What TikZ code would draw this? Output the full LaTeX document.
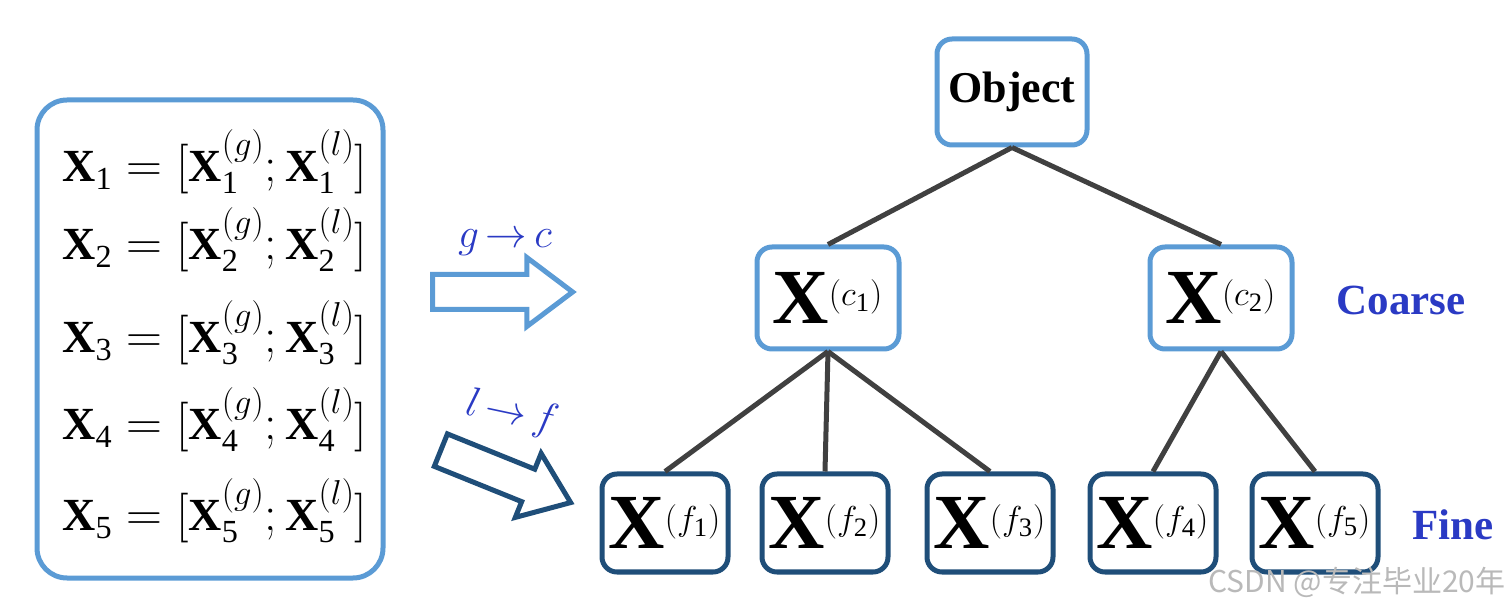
\documentclass[tikz,border=0pt]{standalone}
\usepackage{amsmath}
\usepackage{fontspec}
\setmainfont{Liberation Serif}
\newfontfamily\cjkfont{Noto Sans CJK SC}
\usepackage{tikz}
\usetikzlibrary{shapes.arrows,positioning}
\usepackage{xcolor}
\definecolor{lightblue}{RGB}{91,155,213}
\definecolor{darkblue}{RGB}{31,78,121}
\definecolor{labelblue}{RGB}{42,58,196}
\definecolor{linegray}{RGB}{64,64,64}
\newcommand{\supsmall}[1]{\text{\fontsize{19}{22}\selectfont$#1$}}

\begin{document}
\begin{tikzpicture}[x=0.5pt,y=-0.5pt,
		coarsebox/.style={draw=lightblue, line width=2.5pt, rounded corners=7.5pt, fill=white, inner sep=0pt},
		finebox/.style={draw=darkblue, line width=2.5pt, rounded corners=7.5pt, fill=white, inner sep=0pt, minimum width=63pt, minimum height=49pt},
		treeline/.style={draw=linegray, line width=2.5pt},
		eqn/.style={anchor=west, inner sep=0pt, font=\fontsize{23}{26}\selectfont},
		bigx/.style={font=\fontsize{39}{42}\selectfont},
		levelname/.style={text=labelblue, font=\fontsize{21.5}{24}\selectfont\bfseries},
		blockarrow/.style={single arrow, line width=2.5pt, fill=white, minimum height=70pt, inner xsep=0pt, inner ysep=7.5pt, single arrow head extend=8.5pt, single arrow tip angle=74},
		maplabel/.style={text=labelblue, font=\fontsize{20}{24}\selectfont}]
	\useasboundingbox (0,0) rectangle (1512,609);
	% left box with the feature splits
	\node[draw=lightblue, line width=2.5pt, rounded corners=15pt, minimum width=173pt, minimum height=239pt] (eqbox) at (210,339) {};
	\foreach \i/\y in {1/162,2/240,3/333,4/420,5/511}
		\node[eqn] (eq\i) at (62,\y) {$\mathbf{X}_{\mathrm{\i}}=[\mathbf{X}_{\mathrm{\i}}^{(g)};\mathbf{X}_{\mathrm{\i}}^{(l)}]$};
	% mapping arrows
	\node[blockarrow, draw=lightblue] (toc) at (491,292) {};
	\node[maplabel] (tocl) at (505,243) {$g\,{\rightarrow}\,c$};
	\node[blockarrow, draw=darkblue, rotate=-22] (tof) at (495,472) {};
	\node[maplabel, rotate=-12] (tofl) at (512,414) {$l\,{\rightarrow}\,f$};
	% hierarchy
	\node[coarsebox, minimum width=75pt, minimum height=53pt] (obj) at (1012,92) {\fontsize{22}{26}\selectfont\bfseries Object};
	\node[coarsebox, minimum width=71pt, minimum height=51pt, bigx] (c1) at (828,298) {$\mathbf{X}^{\supsmall{(c_{\mathrm{1}})}}$};
	\node[coarsebox, minimum width=71pt, minimum height=51pt, bigx] (c2) at (1221,298) {$\mathbf{X}^{\supsmall{(c_{\mathrm{2}})}}$};
	\foreach \i/\x in {1/665,2/825,3/990,4/1153,5/1315}
		\node[finebox, bigx] (f\i) at (\x,523) {$\mathbf{X}^{\supsmall{(f_{\mathrm{\i}})}}$};
	\draw[treeline] (obj.south) -- (c1.north);
	\draw[treeline] (obj.south) -- (c2.north);
	\draw[treeline] (c1.south) -- (f1.north);
	\draw[treeline] (c1.south) -- (f2.north);
	\draw[treeline] (c1.south) -- (f3.north);
	\draw[treeline] (c2.south) -- (f4.north);
	\draw[treeline] (c2.south) -- (f5.north);
	\node[levelname] (coarse) at (1401,300) {Coarse};
	\node[levelname] (fine) at (1453,525) {Fine};
	\node[text=gray!55, font=\cjkfont\fontsize{15}{17}\selectfont] (mark) at (1357,582) {CSDN @专注毕业20年};
\end{tikzpicture}
\end{document}
